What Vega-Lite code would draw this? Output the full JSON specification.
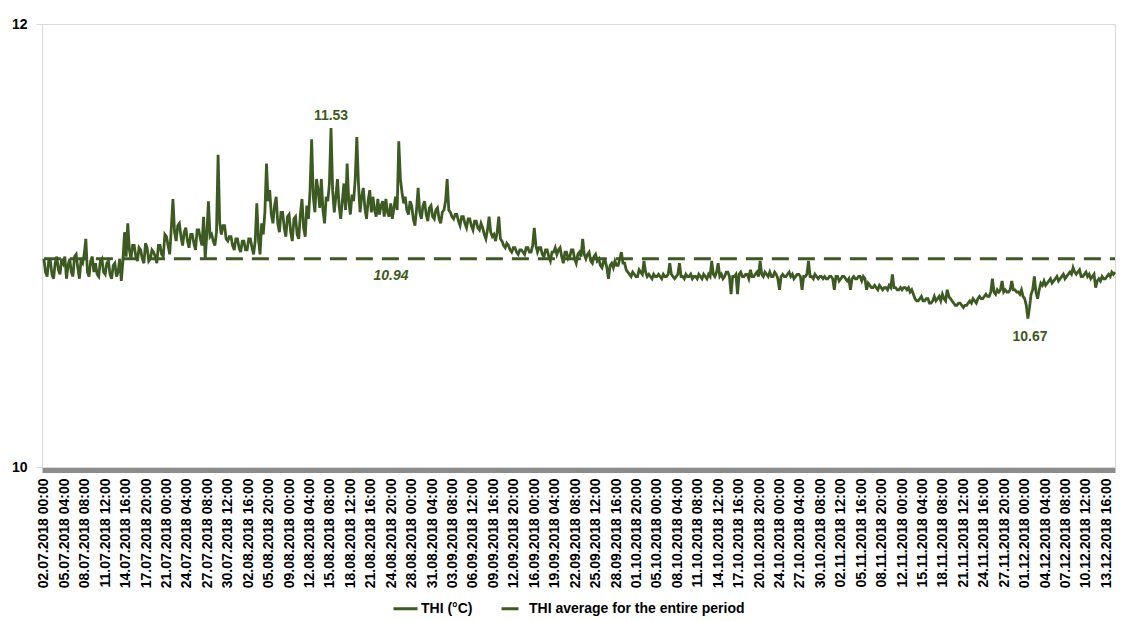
{
  "$schema": "https://vega.github.io/schema/vega-lite/v6.json",
  "width": 1073,
  "height": 443,
  "autosize": {"type": "none"},
  "padding": {"left": 42, "top": 24, "right": 17, "bottom": 154},
  "background": "white",
  "config": {
    "view": {"stroke": "#d9d9d9", "strokeWidth": 1},
    "font": "Liberation Sans",
    "axis": {"labelOverlap": false},
    "axisX": {"labelOverlap": false}
  },
  "datasets": {
    "thi": [
{"t":"2018-07-02T00:00Z","v":10.94},{"t":"2018-07-02T06:00Z","v":10.88},{"t":"2018-07-02T12:00Z","v":10.86},{"t":"2018-07-02T18:00Z","v":10.93},
{"t":"2018-07-03T00:00Z","v":10.93},{"t":"2018-07-03T06:00Z","v":10.87},{"t":"2018-07-03T12:00Z","v":10.85},{"t":"2018-07-03T18:00Z","v":10.92},
{"t":"2018-07-04T00:00Z","v":10.95},{"t":"2018-07-04T06:00Z","v":10.89},{"t":"2018-07-04T12:00Z","v":10.87},{"t":"2018-07-04T18:00Z","v":10.94},
{"t":"2018-07-05T00:00Z","v":10.92},{"t":"2018-07-05T06:00Z","v":10.95},{"t":"2018-07-05T12:00Z","v":10.85},{"t":"2018-07-05T18:00Z","v":10.91},
{"t":"2018-07-06T00:00Z","v":10.94},{"t":"2018-07-06T06:00Z","v":10.88},{"t":"2018-07-06T12:00Z","v":10.86},{"t":"2018-07-06T18:00Z","v":10.95},
{"t":"2018-07-07T00:00Z","v":10.96},{"t":"2018-07-07T06:00Z","v":10.90},{"t":"2018-07-07T12:00Z","v":10.85},{"t":"2018-07-07T18:00Z","v":10.93},
{"t":"2018-07-08T00:00Z","v":10.92},{"t":"2018-07-08T06:00Z","v":10.96},{"t":"2018-07-08T12:00Z","v":11.03},{"t":"2018-07-08T18:00Z","v":10.88},
{"t":"2018-07-09T00:00Z","v":10.86},{"t":"2018-07-09T06:00Z","v":10.93},{"t":"2018-07-09T12:00Z","v":10.95},{"t":"2018-07-09T18:00Z","v":10.88},
{"t":"2018-07-10T00:00Z","v":10.92},{"t":"2018-07-10T06:00Z","v":10.87},{"t":"2018-07-10T12:00Z","v":10.86},{"t":"2018-07-10T18:00Z","v":10.93},
{"t":"2018-07-11T00:00Z","v":10.94},{"t":"2018-07-11T06:00Z","v":10.88},{"t":"2018-07-11T12:00Z","v":10.87},{"t":"2018-07-11T18:00Z","v":10.92},
{"t":"2018-07-12T00:00Z","v":10.93},{"t":"2018-07-12T06:00Z","v":10.87},{"t":"2018-07-12T12:00Z","v":10.85},{"t":"2018-07-12T18:00Z","v":10.91},
{"t":"2018-07-13T00:00Z","v":10.92},{"t":"2018-07-13T06:00Z","v":10.86},{"t":"2018-07-13T12:00Z","v":10.88},{"t":"2018-07-13T18:00Z","v":10.94},
{"t":"2018-07-14T00:00Z","v":10.84},{"t":"2018-07-14T06:00Z","v":10.93},{"t":"2018-07-14T12:00Z","v":11.06},{"t":"2018-07-14T18:00Z","v":10.95},
{"t":"2018-07-15T00:00Z","v":11.10},{"t":"2018-07-15T06:00Z","v":10.98},{"t":"2018-07-15T12:00Z","v":10.94},{"t":"2018-07-15T18:00Z","v":11.00},
{"t":"2018-07-16T00:00Z","v":11.00},{"t":"2018-07-16T06:00Z","v":10.95},{"t":"2018-07-16T12:00Z","v":10.93},{"t":"2018-07-16T18:00Z","v":10.99},
{"t":"2018-07-17T00:00Z","v":10.98},{"t":"2018-07-17T06:00Z","v":10.94},{"t":"2018-07-17T12:00Z","v":10.92},{"t":"2018-07-17T18:00Z","v":11.01},
{"t":"2018-07-18T00:00Z","v":10.99},{"t":"2018-07-18T06:00Z","v":10.93},{"t":"2018-07-18T12:00Z","v":10.94},{"t":"2018-07-18T18:00Z","v":10.98},
{"t":"2018-07-19T00:00Z","v":10.97},{"t":"2018-07-19T06:00Z","v":10.95},{"t":"2018-07-19T12:00Z","v":10.92},{"t":"2018-07-19T18:00Z","v":11.00},
{"t":"2018-07-20T00:00Z","v":11.00},{"t":"2018-07-20T06:00Z","v":10.96},{"t":"2018-07-20T12:00Z","v":10.95},{"t":"2018-07-20T18:00Z","v":11.05},
{"t":"2018-07-21T00:00Z","v":11.04},{"t":"2018-07-21T06:00Z","v":11.00},{"t":"2018-07-21T12:00Z","v":10.96},{"t":"2018-07-21T18:00Z","v":11.08},
{"t":"2018-07-22T00:00Z","v":11.21},{"t":"2018-07-22T06:00Z","v":11.06},{"t":"2018-07-22T12:00Z","v":11.02},{"t":"2018-07-22T18:00Z","v":11.09},
{"t":"2018-07-23T00:00Z","v":11.10},{"t":"2018-07-23T06:00Z","v":11.04},{"t":"2018-07-23T12:00Z","v":11.00},{"t":"2018-07-23T18:00Z","v":11.06},
{"t":"2018-07-24T00:00Z","v":11.08},{"t":"2018-07-24T06:00Z","v":11.02},{"t":"2018-07-24T12:00Z","v":10.99},{"t":"2018-07-24T18:00Z","v":11.05},
{"t":"2018-07-25T00:00Z","v":11.05},{"t":"2018-07-25T06:00Z","v":11.01},{"t":"2018-07-25T12:00Z","v":10.98},{"t":"2018-07-25T18:00Z","v":11.07},
{"t":"2018-07-26T00:00Z","v":11.07},{"t":"2018-07-26T06:00Z","v":11.03},{"t":"2018-07-26T12:00Z","v":11.00},{"t":"2018-07-26T18:00Z","v":11.13},
{"t":"2018-07-27T00:00Z","v":10.94},{"t":"2018-07-27T06:00Z","v":11.05},{"t":"2018-07-27T12:00Z","v":11.20},{"t":"2018-07-27T18:00Z","v":11.04},
{"t":"2018-07-28T00:00Z","v":11.05},{"t":"2018-07-28T06:00Z","v":11.02},{"t":"2018-07-28T12:00Z","v":11.00},{"t":"2018-07-28T18:00Z","v":11.06},
{"t":"2018-07-29T00:00Z","v":11.41},{"t":"2018-07-29T06:00Z","v":11.10},{"t":"2018-07-29T12:00Z","v":11.05},{"t":"2018-07-29T18:00Z","v":11.09},
{"t":"2018-07-30T00:00Z","v":11.09},{"t":"2018-07-30T06:00Z","v":11.03},{"t":"2018-07-30T12:00Z","v":11.02},{"t":"2018-07-30T18:00Z","v":11.04},
{"t":"2018-07-31T00:00Z","v":11.04},{"t":"2018-07-31T06:00Z","v":11.00},{"t":"2018-07-31T12:00Z","v":10.98},{"t":"2018-07-31T18:00Z","v":11.03},
{"t":"2018-08-01T00:00Z","v":11.03},{"t":"2018-08-01T06:00Z","v":10.99},{"t":"2018-08-01T12:00Z","v":10.97},{"t":"2018-08-01T18:00Z","v":11.02},
{"t":"2018-08-02T00:00Z","v":11.02},{"t":"2018-08-02T06:00Z","v":10.98},{"t":"2018-08-02T12:00Z","v":10.98},{"t":"2018-08-02T18:00Z","v":11.03},
{"t":"2018-08-03T00:00Z","v":11.03},{"t":"2018-08-03T06:00Z","v":10.99},{"t":"2018-08-03T12:00Z","v":10.96},{"t":"2018-08-03T18:00Z","v":11.02},
{"t":"2018-08-04T00:00Z","v":11.19},{"t":"2018-08-04T06:00Z","v":11.03},{"t":"2018-08-04T12:00Z","v":10.96},{"t":"2018-08-04T18:00Z","v":11.10},
{"t":"2018-08-05T00:00Z","v":11.05},{"t":"2018-08-05T06:00Z","v":11.15},{"t":"2018-08-05T12:00Z","v":11.37},{"t":"2018-08-05T18:00Z","v":11.20},
{"t":"2018-08-06T00:00Z","v":11.25},{"t":"2018-08-06T06:00Z","v":11.14},{"t":"2018-08-06T12:00Z","v":11.10},{"t":"2018-08-06T18:00Z","v":11.18},
{"t":"2018-08-07T00:00Z","v":11.22},{"t":"2018-08-07T06:00Z","v":11.10},{"t":"2018-08-07T12:00Z","v":11.06},{"t":"2018-08-07T18:00Z","v":11.15},
{"t":"2018-08-08T00:00Z","v":11.15},{"t":"2018-08-08T06:00Z","v":11.08},{"t":"2018-08-08T12:00Z","v":11.04},{"t":"2018-08-08T18:00Z","v":11.13},
{"t":"2018-08-09T00:00Z","v":11.14},{"t":"2018-08-09T06:00Z","v":11.06},{"t":"2018-08-09T12:00Z","v":11.02},{"t":"2018-08-09T18:00Z","v":11.12},
{"t":"2018-08-10T00:00Z","v":11.13},{"t":"2018-08-10T06:00Z","v":11.05},{"t":"2018-08-10T12:00Z","v":11.03},{"t":"2018-08-10T18:00Z","v":11.14},
{"t":"2018-08-11T00:00Z","v":11.21},{"t":"2018-08-11T06:00Z","v":11.08},{"t":"2018-08-11T12:00Z","v":11.04},{"t":"2018-08-11T18:00Z","v":11.18},
{"t":"2018-08-12T00:00Z","v":11.12},{"t":"2018-08-12T06:00Z","v":11.25},{"t":"2018-08-12T12:00Z","v":11.48},{"t":"2018-08-12T18:00Z","v":11.22},
{"t":"2018-08-13T00:00Z","v":11.15},{"t":"2018-08-13T06:00Z","v":11.30},{"t":"2018-08-13T12:00Z","v":11.25},{"t":"2018-08-13T18:00Z","v":11.17},
{"t":"2018-08-14T00:00Z","v":11.30},{"t":"2018-08-14T06:00Z","v":11.16},{"t":"2018-08-14T12:00Z","v":11.10},{"t":"2018-08-14T18:00Z","v":11.22},
{"t":"2018-08-15T00:00Z","v":11.20},{"t":"2018-08-15T06:00Z","v":11.28},{"t":"2018-08-15T12:00Z","v":11.53},{"t":"2018-08-15T18:00Z","v":11.25},
{"t":"2018-08-16T00:00Z","v":11.15},{"t":"2018-08-16T06:00Z","v":11.22},{"t":"2018-08-16T12:00Z","v":11.30},{"t":"2018-08-16T18:00Z","v":11.18},
{"t":"2018-08-17T00:00Z","v":11.12},{"t":"2018-08-17T06:00Z","v":11.20},{"t":"2018-08-17T12:00Z","v":11.28},{"t":"2018-08-17T18:00Z","v":11.16},
{"t":"2018-08-18T00:00Z","v":11.37},{"t":"2018-08-18T06:00Z","v":11.20},{"t":"2018-08-18T12:00Z","v":11.14},{"t":"2018-08-18T18:00Z","v":11.23},
{"t":"2018-08-19T00:00Z","v":11.20},{"t":"2018-08-19T06:00Z","v":11.30},{"t":"2018-08-19T12:00Z","v":11.49},{"t":"2018-08-19T18:00Z","v":11.28},
{"t":"2018-08-20T00:00Z","v":11.15},{"t":"2018-08-20T06:00Z","v":11.22},{"t":"2018-08-20T12:00Z","v":11.26},{"t":"2018-08-20T18:00Z","v":11.17},
{"t":"2018-08-21T00:00Z","v":11.12},{"t":"2018-08-21T06:00Z","v":11.20},{"t":"2018-08-21T12:00Z","v":11.25},{"t":"2018-08-21T18:00Z","v":11.15},
{"t":"2018-08-22T00:00Z","v":11.22},{"t":"2018-08-22T06:00Z","v":11.16},{"t":"2018-08-22T12:00Z","v":11.13},{"t":"2018-08-22T18:00Z","v":11.21},
{"t":"2018-08-23T00:00Z","v":11.14},{"t":"2018-08-23T06:00Z","v":11.18},{"t":"2018-08-23T12:00Z","v":11.20},{"t":"2018-08-23T18:00Z","v":11.13},
{"t":"2018-08-24T00:00Z","v":11.21},{"t":"2018-08-24T06:00Z","v":11.15},{"t":"2018-08-24T12:00Z","v":11.13},{"t":"2018-08-24T18:00Z","v":11.19},
{"t":"2018-08-25T00:00Z","v":11.12},{"t":"2018-08-25T06:00Z","v":11.17},{"t":"2018-08-25T12:00Z","v":11.22},{"t":"2018-08-25T18:00Z","v":11.16},
{"t":"2018-08-26T00:00Z","v":11.47},{"t":"2018-08-26T06:00Z","v":11.30},{"t":"2018-08-26T12:00Z","v":11.24},{"t":"2018-08-26T18:00Z","v":11.19},
{"t":"2018-08-27T00:00Z","v":11.22},{"t":"2018-08-27T06:00Z","v":11.16},{"t":"2018-08-27T12:00Z","v":11.14},{"t":"2018-08-27T18:00Z","v":11.20},
{"t":"2018-08-28T00:00Z","v":11.18},{"t":"2018-08-28T06:00Z","v":11.12},{"t":"2018-08-28T12:00Z","v":11.09},{"t":"2018-08-28T18:00Z","v":11.16},
{"t":"2018-08-29T00:00Z","v":11.26},{"t":"2018-08-29T06:00Z","v":11.15},{"t":"2018-08-29T12:00Z","v":11.12},{"t":"2018-08-29T18:00Z","v":11.18},
{"t":"2018-08-30T00:00Z","v":11.20},{"t":"2018-08-30T06:00Z","v":11.14},{"t":"2018-08-30T12:00Z","v":11.11},{"t":"2018-08-30T18:00Z","v":11.17},
{"t":"2018-08-31T00:00Z","v":11.18},{"t":"2018-08-31T06:00Z","v":11.13},{"t":"2018-08-31T12:00Z","v":11.12},{"t":"2018-08-31T18:00Z","v":11.16},
{"t":"2018-09-01T00:00Z","v":11.17},{"t":"2018-09-01T06:00Z","v":11.12},{"t":"2018-09-01T12:00Z","v":11.10},{"t":"2018-09-01T18:00Z","v":11.15},
{"t":"2018-09-02T00:00Z","v":11.16},{"t":"2018-09-02T06:00Z","v":11.20},{"t":"2018-09-02T12:00Z","v":11.30},{"t":"2018-09-02T18:00Z","v":11.16},
{"t":"2018-09-03T00:00Z","v":11.15},{"t":"2018-09-03T06:00Z","v":11.13},{"t":"2018-09-03T12:00Z","v":11.12},{"t":"2018-09-03T18:00Z","v":11.14},
{"t":"2018-09-04T00:00Z","v":11.14},{"t":"2018-09-04T06:00Z","v":11.11},{"t":"2018-09-04T12:00Z","v":11.09},{"t":"2018-09-04T18:00Z","v":11.13},
{"t":"2018-09-05T00:00Z","v":11.13},{"t":"2018-09-05T06:00Z","v":11.10},{"t":"2018-09-05T12:00Z","v":11.08},{"t":"2018-09-05T18:00Z","v":11.12},
{"t":"2018-09-06T00:00Z","v":11.12},{"t":"2018-09-06T06:00Z","v":11.09},{"t":"2018-09-06T12:00Z","v":11.07},{"t":"2018-09-06T18:00Z","v":11.11},
{"t":"2018-09-07T00:00Z","v":11.11},{"t":"2018-09-07T06:00Z","v":11.08},{"t":"2018-09-07T12:00Z","v":11.07},{"t":"2018-09-07T18:00Z","v":11.10},
{"t":"2018-09-08T00:00Z","v":11.08},{"t":"2018-09-08T06:00Z","v":11.05},{"t":"2018-09-08T12:00Z","v":11.03},{"t":"2018-09-08T18:00Z","v":11.07},
{"t":"2018-09-09T00:00Z","v":11.13},{"t":"2018-09-09T06:00Z","v":11.06},{"t":"2018-09-09T12:00Z","v":11.04},{"t":"2018-09-09T18:00Z","v":11.05},
{"t":"2018-09-10T00:00Z","v":11.02},{"t":"2018-09-10T06:00Z","v":11.06},{"t":"2018-09-10T12:00Z","v":11.13},{"t":"2018-09-10T18:00Z","v":11.03},
{"t":"2018-09-11T00:00Z","v":11.02},{"t":"2018-09-11T06:00Z","v":11.00},{"t":"2018-09-11T12:00Z","v":10.99},{"t":"2018-09-11T18:00Z","v":11.01},
{"t":"2018-09-12T00:00Z","v":11.00},{"t":"2018-09-12T06:00Z","v":10.98},{"t":"2018-09-12T12:00Z","v":10.97},{"t":"2018-09-12T18:00Z","v":10.99},
{"t":"2018-09-13T00:00Z","v":10.99},{"t":"2018-09-13T06:00Z","v":10.97},{"t":"2018-09-13T12:00Z","v":10.96},{"t":"2018-09-13T18:00Z","v":10.98},
{"t":"2018-09-14T00:00Z","v":10.98},{"t":"2018-09-14T06:00Z","v":10.97},{"t":"2018-09-14T12:00Z","v":10.96},{"t":"2018-09-14T18:00Z","v":10.99},
{"t":"2018-09-15T00:00Z","v":10.99},{"t":"2018-09-15T06:00Z","v":10.97},{"t":"2018-09-15T12:00Z","v":10.97},{"t":"2018-09-15T18:00Z","v":11.00},
{"t":"2018-09-16T00:00Z","v":11.08},{"t":"2018-09-16T06:00Z","v":11.00},{"t":"2018-09-16T12:00Z","v":10.97},{"t":"2018-09-16T18:00Z","v":10.99},
{"t":"2018-09-17T00:00Z","v":10.99},{"t":"2018-09-17T06:00Z","v":10.96},{"t":"2018-09-17T12:00Z","v":10.95},{"t":"2018-09-17T18:00Z","v":10.98},
{"t":"2018-09-18T00:00Z","v":10.98},{"t":"2018-09-18T06:00Z","v":10.95},{"t":"2018-09-18T12:00Z","v":10.93},{"t":"2018-09-18T18:00Z","v":10.97},
{"t":"2018-09-19T00:00Z","v":10.97},{"t":"2018-09-19T06:00Z","v":10.99},{"t":"2018-09-19T12:00Z","v":10.96},{"t":"2018-09-19T18:00Z","v":10.98},
{"t":"2018-09-20T00:00Z","v":10.99},{"t":"2018-09-20T06:00Z","v":10.95},{"t":"2018-09-20T12:00Z","v":10.92},{"t":"2018-09-20T18:00Z","v":10.97},
{"t":"2018-09-21T00:00Z","v":10.97},{"t":"2018-09-21T06:00Z","v":10.94},{"t":"2018-09-21T12:00Z","v":10.95},{"t":"2018-09-21T18:00Z","v":10.98},
{"t":"2018-09-22T00:00Z","v":10.98},{"t":"2018-09-22T06:00Z","v":10.94},{"t":"2018-09-22T12:00Z","v":10.92},{"t":"2018-09-22T18:00Z","v":10.96},
{"t":"2018-09-23T00:00Z","v":10.97},{"t":"2018-09-23T06:00Z","v":10.95},{"t":"2018-09-23T12:00Z","v":11.03},{"t":"2018-09-23T18:00Z","v":10.96},
{"t":"2018-09-24T00:00Z","v":10.94},{"t":"2018-09-24T06:00Z","v":10.96},{"t":"2018-09-24T12:00Z","v":10.97},{"t":"2018-09-24T18:00Z","v":10.93},
{"t":"2018-09-25T00:00Z","v":10.92},{"t":"2018-09-25T06:00Z","v":10.95},{"t":"2018-09-25T12:00Z","v":10.96},{"t":"2018-09-25T18:00Z","v":10.93},
{"t":"2018-09-26T00:00Z","v":10.94},{"t":"2018-09-26T06:00Z","v":10.91},{"t":"2018-09-26T12:00Z","v":10.90},{"t":"2018-09-26T18:00Z","v":10.93},
{"t":"2018-09-27T00:00Z","v":10.93},{"t":"2018-09-27T06:00Z","v":10.90},{"t":"2018-09-27T12:00Z","v":10.85},{"t":"2018-09-27T18:00Z","v":10.91},
{"t":"2018-09-28T00:00Z","v":10.92},{"t":"2018-09-28T06:00Z","v":10.90},{"t":"2018-09-28T12:00Z","v":10.93},{"t":"2018-09-28T18:00Z","v":10.91},
{"t":"2018-09-29T00:00Z","v":10.91},{"t":"2018-09-29T06:00Z","v":10.94},{"t":"2018-09-29T12:00Z","v":10.97},{"t":"2018-09-29T18:00Z","v":10.92},
{"t":"2018-09-30T00:00Z","v":10.92},{"t":"2018-09-30T06:00Z","v":10.89},{"t":"2018-09-30T12:00Z","v":10.88},{"t":"2018-09-30T18:00Z","v":10.87},
{"t":"2018-10-01T00:00Z","v":10.86},{"t":"2018-10-01T06:00Z","v":10.88},{"t":"2018-10-01T12:00Z","v":10.87},{"t":"2018-10-01T18:00Z","v":10.86},
{"t":"2018-10-02T00:00Z","v":10.86},{"t":"2018-10-02T06:00Z","v":10.89},{"t":"2018-10-02T12:00Z","v":10.88},{"t":"2018-10-02T18:00Z","v":10.87},
{"t":"2018-10-03T00:00Z","v":10.93},{"t":"2018-10-03T06:00Z","v":10.88},{"t":"2018-10-03T12:00Z","v":10.86},{"t":"2018-10-03T18:00Z","v":10.87},
{"t":"2018-10-04T00:00Z","v":10.86},{"t":"2018-10-04T06:00Z","v":10.85},{"t":"2018-10-04T12:00Z","v":10.87},{"t":"2018-10-04T18:00Z","v":10.86},
{"t":"2018-10-05T00:00Z","v":10.86},{"t":"2018-10-05T06:00Z","v":10.87},{"t":"2018-10-05T12:00Z","v":10.86},{"t":"2018-10-05T18:00Z","v":10.85},
{"t":"2018-10-06T00:00Z","v":10.87},{"t":"2018-10-06T06:00Z","v":10.86},{"t":"2018-10-06T12:00Z","v":10.86},{"t":"2018-10-06T18:00Z","v":10.87},
{"t":"2018-10-07T00:00Z","v":10.92},{"t":"2018-10-07T06:00Z","v":10.87},{"t":"2018-10-07T12:00Z","v":10.86},{"t":"2018-10-07T18:00Z","v":10.85},
{"t":"2018-10-08T00:00Z","v":10.86},{"t":"2018-10-08T06:00Z","v":10.87},{"t":"2018-10-08T12:00Z","v":10.92},{"t":"2018-10-08T18:00Z","v":10.86},
{"t":"2018-10-09T00:00Z","v":10.86},{"t":"2018-10-09T06:00Z","v":10.85},{"t":"2018-10-09T12:00Z","v":10.87},{"t":"2018-10-09T18:00Z","v":10.86},
{"t":"2018-10-10T00:00Z","v":10.86},{"t":"2018-10-10T06:00Z","v":10.87},{"t":"2018-10-10T12:00Z","v":10.85},{"t":"2018-10-10T18:00Z","v":10.86},
{"t":"2018-10-11T00:00Z","v":10.86},{"t":"2018-10-11T06:00Z","v":10.85},{"t":"2018-10-11T12:00Z","v":10.87},{"t":"2018-10-11T18:00Z","v":10.86},
{"t":"2018-10-12T00:00Z","v":10.85},{"t":"2018-10-12T06:00Z","v":10.87},{"t":"2018-10-12T12:00Z","v":10.86},{"t":"2018-10-12T18:00Z","v":10.85},
{"t":"2018-10-13T00:00Z","v":10.87},{"t":"2018-10-13T06:00Z","v":10.86},{"t":"2018-10-13T12:00Z","v":10.93},{"t":"2018-10-13T18:00Z","v":10.87},
{"t":"2018-10-14T00:00Z","v":10.86},{"t":"2018-10-14T06:00Z","v":10.88},{"t":"2018-10-14T12:00Z","v":10.92},{"t":"2018-10-14T18:00Z","v":10.86},
{"t":"2018-10-15T00:00Z","v":10.87},{"t":"2018-10-15T06:00Z","v":10.85},{"t":"2018-10-15T12:00Z","v":10.86},{"t":"2018-10-15T18:00Z","v":10.88},
{"t":"2018-10-16T00:00Z","v":10.88},{"t":"2018-10-16T06:00Z","v":10.86},{"t":"2018-10-16T12:00Z","v":10.78},{"t":"2018-10-16T18:00Z","v":10.86},
{"t":"2018-10-17T00:00Z","v":10.86},{"t":"2018-10-17T06:00Z","v":10.87},{"t":"2018-10-17T12:00Z","v":10.78},{"t":"2018-10-17T18:00Z","v":10.87},
{"t":"2018-10-18T00:00Z","v":10.88},{"t":"2018-10-18T06:00Z","v":10.86},{"t":"2018-10-18T12:00Z","v":10.86},{"t":"2018-10-18T18:00Z","v":10.87},
{"t":"2018-10-19T00:00Z","v":10.87},{"t":"2018-10-19T06:00Z","v":10.85},{"t":"2018-10-19T12:00Z","v":10.89},{"t":"2018-10-19T18:00Z","v":10.86},
{"t":"2018-10-20T00:00Z","v":10.86},{"t":"2018-10-20T06:00Z","v":10.87},{"t":"2018-10-20T12:00Z","v":10.88},{"t":"2018-10-20T18:00Z","v":10.86},
{"t":"2018-10-21T00:00Z","v":10.93},{"t":"2018-10-21T06:00Z","v":10.87},{"t":"2018-10-21T12:00Z","v":10.86},{"t":"2018-10-21T18:00Z","v":10.88},
{"t":"2018-10-22T00:00Z","v":10.87},{"t":"2018-10-22T06:00Z","v":10.86},{"t":"2018-10-22T12:00Z","v":10.88},{"t":"2018-10-22T18:00Z","v":10.86},
{"t":"2018-10-23T00:00Z","v":10.86},{"t":"2018-10-23T06:00Z","v":10.88},{"t":"2018-10-23T12:00Z","v":10.87},{"t":"2018-10-23T18:00Z","v":10.85},
{"t":"2018-10-24T00:00Z","v":10.80},{"t":"2018-10-24T06:00Z","v":10.86},{"t":"2018-10-24T12:00Z","v":10.87},{"t":"2018-10-24T18:00Z","v":10.86},
{"t":"2018-10-25T00:00Z","v":10.86},{"t":"2018-10-25T06:00Z","v":10.87},{"t":"2018-10-25T12:00Z","v":10.88},{"t":"2018-10-25T18:00Z","v":10.86},
{"t":"2018-10-26T00:00Z","v":10.87},{"t":"2018-10-26T06:00Z","v":10.85},{"t":"2018-10-26T12:00Z","v":10.86},{"t":"2018-10-26T18:00Z","v":10.87},
{"t":"2018-10-27T00:00Z","v":10.87},{"t":"2018-10-27T06:00Z","v":10.86},{"t":"2018-10-27T12:00Z","v":10.80},{"t":"2018-10-27T18:00Z","v":10.86},
{"t":"2018-10-28T00:00Z","v":10.86},{"t":"2018-10-28T06:00Z","v":10.87},{"t":"2018-10-28T12:00Z","v":10.93},{"t":"2018-10-28T18:00Z","v":10.86},
{"t":"2018-10-29T00:00Z","v":10.86},{"t":"2018-10-29T06:00Z","v":10.85},{"t":"2018-10-29T12:00Z","v":10.87},{"t":"2018-10-29T18:00Z","v":10.86},
{"t":"2018-10-30T00:00Z","v":10.85},{"t":"2018-10-30T06:00Z","v":10.86},{"t":"2018-10-30T12:00Z","v":10.86},{"t":"2018-10-30T18:00Z","v":10.85},
{"t":"2018-10-31T00:00Z","v":10.86},{"t":"2018-10-31T06:00Z","v":10.85},{"t":"2018-10-31T12:00Z","v":10.85},{"t":"2018-10-31T18:00Z","v":10.86},
{"t":"2018-11-01T00:00Z","v":10.86},{"t":"2018-11-01T06:00Z","v":10.85},{"t":"2018-11-01T12:00Z","v":10.80},{"t":"2018-11-01T18:00Z","v":10.86},
{"t":"2018-11-02T00:00Z","v":10.86},{"t":"2018-11-02T06:00Z","v":10.84},{"t":"2018-11-02T12:00Z","v":10.85},{"t":"2018-11-02T18:00Z","v":10.86},
{"t":"2018-11-03T00:00Z","v":10.86},{"t":"2018-11-03T06:00Z","v":10.85},{"t":"2018-11-03T12:00Z","v":10.84},{"t":"2018-11-03T18:00Z","v":10.85},
{"t":"2018-11-04T00:00Z","v":10.80},{"t":"2018-11-04T06:00Z","v":10.85},{"t":"2018-11-04T12:00Z","v":10.86},{"t":"2018-11-04T18:00Z","v":10.85},
{"t":"2018-11-05T00:00Z","v":10.85},{"t":"2018-11-05T06:00Z","v":10.86},{"t":"2018-11-05T12:00Z","v":10.86},{"t":"2018-11-05T18:00Z","v":10.84},
{"t":"2018-11-06T00:00Z","v":10.86},{"t":"2018-11-06T06:00Z","v":10.85},{"t":"2018-11-06T12:00Z","v":10.80},{"t":"2018-11-06T18:00Z","v":10.83},
{"t":"2018-11-07T00:00Z","v":10.82},{"t":"2018-11-07T06:00Z","v":10.81},{"t":"2018-11-07T12:00Z","v":10.81},{"t":"2018-11-07T18:00Z","v":10.82},
{"t":"2018-11-08T00:00Z","v":10.81},{"t":"2018-11-08T06:00Z","v":10.80},{"t":"2018-11-08T12:00Z","v":10.82},{"t":"2018-11-08T18:00Z","v":10.81},
{"t":"2018-11-09T00:00Z","v":10.80},{"t":"2018-11-09T06:00Z","v":10.81},{"t":"2018-11-09T12:00Z","v":10.81},{"t":"2018-11-09T18:00Z","v":10.80},
{"t":"2018-11-10T00:00Z","v":10.82},{"t":"2018-11-10T06:00Z","v":10.81},{"t":"2018-11-10T12:00Z","v":10.87},{"t":"2018-11-10T18:00Z","v":10.81},
{"t":"2018-11-11T00:00Z","v":10.81},{"t":"2018-11-11T06:00Z","v":10.80},{"t":"2018-11-11T12:00Z","v":10.80},{"t":"2018-11-11T18:00Z","v":10.81},
{"t":"2018-11-12T00:00Z","v":10.80},{"t":"2018-11-12T06:00Z","v":10.81},{"t":"2018-11-12T12:00Z","v":10.81},{"t":"2018-11-12T18:00Z","v":10.80},
{"t":"2018-11-13T00:00Z","v":10.81},{"t":"2018-11-13T06:00Z","v":10.79},{"t":"2018-11-13T12:00Z","v":10.80},{"t":"2018-11-13T18:00Z","v":10.78},
{"t":"2018-11-14T00:00Z","v":10.76},{"t":"2018-11-14T06:00Z","v":10.75},{"t":"2018-11-14T12:00Z","v":10.75},{"t":"2018-11-14T18:00Z","v":10.76},
{"t":"2018-11-15T00:00Z","v":10.77},{"t":"2018-11-15T06:00Z","v":10.75},{"t":"2018-11-15T12:00Z","v":10.75},{"t":"2018-11-15T18:00Z","v":10.76},
{"t":"2018-11-16T00:00Z","v":10.76},{"t":"2018-11-16T06:00Z","v":10.74},{"t":"2018-11-16T12:00Z","v":10.74},{"t":"2018-11-16T18:00Z","v":10.75},
{"t":"2018-11-17T00:00Z","v":10.77},{"t":"2018-11-17T06:00Z","v":10.75},{"t":"2018-11-17T12:00Z","v":10.76},{"t":"2018-11-17T18:00Z","v":10.77},
{"t":"2018-11-18T00:00Z","v":10.75},{"t":"2018-11-18T06:00Z","v":10.78},{"t":"2018-11-18T12:00Z","v":10.76},{"t":"2018-11-18T18:00Z","v":10.75},
{"t":"2018-11-19T00:00Z","v":10.80},{"t":"2018-11-19T06:00Z","v":10.77},{"t":"2018-11-19T12:00Z","v":10.76},{"t":"2018-11-19T18:00Z","v":10.75},
{"t":"2018-11-20T00:00Z","v":10.74},{"t":"2018-11-20T06:00Z","v":10.73},{"t":"2018-11-20T12:00Z","v":10.73},{"t":"2018-11-20T18:00Z","v":10.74},
{"t":"2018-11-21T00:00Z","v":10.74},{"t":"2018-11-21T06:00Z","v":10.73},{"t":"2018-11-21T12:00Z","v":10.72},{"t":"2018-11-21T18:00Z","v":10.73},
{"t":"2018-11-22T00:00Z","v":10.73},{"t":"2018-11-22T06:00Z","v":10.74},{"t":"2018-11-22T12:00Z","v":10.75},{"t":"2018-11-22T18:00Z","v":10.74},
{"t":"2018-11-23T00:00Z","v":10.76},{"t":"2018-11-23T06:00Z","v":10.75},{"t":"2018-11-23T12:00Z","v":10.74},{"t":"2018-11-23T18:00Z","v":10.76},
{"t":"2018-11-24T00:00Z","v":10.77},{"t":"2018-11-24T06:00Z","v":10.76},{"t":"2018-11-24T12:00Z","v":10.76},{"t":"2018-11-24T18:00Z","v":10.77},
{"t":"2018-11-25T00:00Z","v":10.78},{"t":"2018-11-25T06:00Z","v":10.77},{"t":"2018-11-25T12:00Z","v":10.77},{"t":"2018-11-25T18:00Z","v":10.79},
{"t":"2018-11-26T00:00Z","v":10.85},{"t":"2018-11-26T06:00Z","v":10.79},{"t":"2018-11-26T12:00Z","v":10.78},{"t":"2018-11-26T18:00Z","v":10.80},
{"t":"2018-11-27T00:00Z","v":10.79},{"t":"2018-11-27T06:00Z","v":10.80},{"t":"2018-11-27T12:00Z","v":10.84},{"t":"2018-11-27T18:00Z","v":10.79},
{"t":"2018-11-28T00:00Z","v":10.80},{"t":"2018-11-28T06:00Z","v":10.79},{"t":"2018-11-28T12:00Z","v":10.79},{"t":"2018-11-28T18:00Z","v":10.80},
{"t":"2018-11-29T00:00Z","v":10.84},{"t":"2018-11-29T06:00Z","v":10.80},{"t":"2018-11-29T12:00Z","v":10.80},{"t":"2018-11-29T18:00Z","v":10.79},
{"t":"2018-11-30T00:00Z","v":10.79},{"t":"2018-11-30T06:00Z","v":10.78},{"t":"2018-11-30T12:00Z","v":10.80},{"t":"2018-11-30T18:00Z","v":10.77},
{"t":"2018-12-01T00:00Z","v":10.76},{"t":"2018-12-01T06:00Z","v":10.73},{"t":"2018-12-01T12:00Z","v":10.67},{"t":"2018-12-01T18:00Z","v":10.72},
{"t":"2018-12-02T00:00Z","v":10.78},{"t":"2018-12-02T06:00Z","v":10.80},{"t":"2018-12-02T12:00Z","v":10.86},{"t":"2018-12-02T18:00Z","v":10.79},
{"t":"2018-12-03T00:00Z","v":10.76},{"t":"2018-12-03T06:00Z","v":10.80},{"t":"2018-12-03T12:00Z","v":10.83},{"t":"2018-12-03T18:00Z","v":10.82},
{"t":"2018-12-04T00:00Z","v":10.84},{"t":"2018-12-04T06:00Z","v":10.82},{"t":"2018-12-04T12:00Z","v":10.83},{"t":"2018-12-04T18:00Z","v":10.84},
{"t":"2018-12-05T00:00Z","v":10.85},{"t":"2018-12-05T06:00Z","v":10.83},{"t":"2018-12-05T12:00Z","v":10.84},{"t":"2018-12-05T18:00Z","v":10.85},
{"t":"2018-12-06T00:00Z","v":10.86},{"t":"2018-12-06T06:00Z","v":10.84},{"t":"2018-12-06T12:00Z","v":10.85},{"t":"2018-12-06T18:00Z","v":10.86},
{"t":"2018-12-07T00:00Z","v":10.87},{"t":"2018-12-07T06:00Z","v":10.85},{"t":"2018-12-07T12:00Z","v":10.86},{"t":"2018-12-07T18:00Z","v":10.87},
{"t":"2018-12-08T00:00Z","v":10.88},{"t":"2018-12-08T06:00Z","v":10.87},{"t":"2018-12-08T12:00Z","v":10.90},{"t":"2018-12-08T18:00Z","v":10.88},
{"t":"2018-12-09T00:00Z","v":10.87},{"t":"2018-12-09T06:00Z","v":10.88},{"t":"2018-12-09T12:00Z","v":10.89},{"t":"2018-12-09T18:00Z","v":10.86},
{"t":"2018-12-10T00:00Z","v":10.86},{"t":"2018-12-10T06:00Z","v":10.87},{"t":"2018-12-10T12:00Z","v":10.88},{"t":"2018-12-10T18:00Z","v":10.86},
{"t":"2018-12-11T00:00Z","v":10.87},{"t":"2018-12-11T06:00Z","v":10.85},{"t":"2018-12-11T12:00Z","v":10.86},{"t":"2018-12-11T18:00Z","v":10.87},
{"t":"2018-12-12T00:00Z","v":10.81},{"t":"2018-12-12T06:00Z","v":10.84},{"t":"2018-12-12T12:00Z","v":10.85},{"t":"2018-12-12T18:00Z","v":10.84},
{"t":"2018-12-13T00:00Z","v":10.86},{"t":"2018-12-13T06:00Z","v":10.85},{"t":"2018-12-13T12:00Z","v":10.85},{"t":"2018-12-13T18:00Z","v":10.86},
{"t":"2018-12-14T00:00Z","v":10.87},{"t":"2018-12-14T06:00Z","v":10.86},{"t":"2018-12-14T12:00Z","v":10.88},{"t":"2018-12-14T18:00Z","v":10.87},
{"t":"2018-12-15T00:00Z","v":10.88}
    ]
  },
  "encoding": {
    "x": {
      "field": "t",
      "type": "temporal",
      "scale": {"type": "utc", "domain": [1530464400000, 1544832000000], "nice": false},
      "axis": {
        "title": null,
        "values": [1530489600000,1530763200000,1531036800000,1531310400000,1531584000000,1531857600000,1532131200000,1532404800000,1532678400000,1532952000000,1533225600000,1533499200000,1533772800000,1534046400000,1534320000000,1534593600000,1534867200000,1535140800000,1535414400000,1535688000000,1535961600000,1536235200000,1536508800000,1536782400000,1537056000000,1537329600000,1537603200000,1537876800000,1538150400000,1538424000000,1538697600000,1538971200000,1539244800000,1539518400000,1539792000000,1540065600000,1540339200000,1540612800000,1540886400000,1541160000000,1541433600000,1541707200000,1541980800000,1542254400000,1542528000000,1542801600000,1543075200000,1543348800000,1543622400000,1543896000000,1544169600000,1544443200000,1544716800000],
        "labelExpr": "utcFormat(datum.value, '%d.%m.%Y %H:%M')",
        "labelAngle": -90,
        "labelFont": "Liberation Sans",
        "labelFontSize": 14,
        "labelFontWeight": "bold",
        "labelColor": "#000000",
        "labelOverlap": false,
        "labelFlush": false,
        "labelBound": false,
        "labelPadding": 8,
        "ticks": false,
        "grid": false,
        "domainColor": "#8c8c8c",
        "domainWidth": 5,
        "offset": 3
      }
    },
    "y": {
      "field": "v",
      "type": "quantitative",
      "scale": {"domain": [10, 12], "nice": false},
      "axis": {
        "title": null,
        "values": [10, 11, 12],
        "format": "d",
        "labelFont": "Liberation Sans",
        "labelFontSize": 14,
        "labelFontWeight": "bold",
        "labelColor": "#000000",
        "labelPadding": 9,
        "tickSize": 6,
        "tickColor": "#d9d9d9",
        "domainColor": "#d9d9d9",
        "grid": true,
        "gridColor": "#d9d9d9"
      }
    }
  },
  "layer": [
    {
      "data": {"values": [
        {"s": "THI average for the entire period", "t": "2018-07-02T00:00Z", "v": 10.94},
        {"s": "THI average for the entire period", "t": "2018-12-15T00:00Z", "v": 10.94}
      ]},
      "mark": {"type": "line", "strokeWidth": 3, "color": "#3d5a22"},
      "encoding": {
        "strokeDash": {
          "field": "s",
          "type": "nominal",
          "scale": {"domain": ["THI (°C)", "THI average for the entire period"], "range": [[1, 0], [17, 9]]},
          "legend": {
            "title": null,
            "orient": "none",
            "legendX": 350,
            "legendY": 571,
            "direction": "horizontal",
            "symbolType": "stroke",
            "symbolSize": 576,
            "symbolStrokeWidth": 3,
            "symbolStrokeColor": "#3d5a22",
            "labelFont": "Liberation Sans",
            "labelFontSize": 14,
            "labelFontWeight": "bold",
            "labelColor": "#000000",
            "labelOffset": 2,
            "columnPadding": 22,
            "padding": 0,
            "labelLimit": 400
          }
        }
      }
    },
    {
      "data": {"name": "thi"},
      "mark": {"type": "line", "strokeWidth": 2.8, "color": "#3d5a22", "interpolate": "linear"},
      "encoding": {
        "strokeDash": {"datum": "THI (°C)", "type": "nominal"}
      }
    },
    {
      "data": {"values": [{"t": "2018-08-15T12:00Z", "v": 11.53, "label": "11.53"}]},
      "mark": {"type": "text", "font": "Liberation Sans", "fontSize": 14, "fontWeight": "bold", "color": "#3d5a22", "dy": -12, "baseline": "middle"},
      "encoding": {"text": {"field": "label"}}
    },
    {
      "data": {"values": [{"t": "2018-08-24T19:00Z", "v": 10.94, "label": "10.94"}]},
      "mark": {"type": "text", "font": "Liberation Sans", "fontSize": 14, "fontWeight": "bold", "fontStyle": "italic", "color": "#3d5a22", "dy": 17, "baseline": "middle"},
      "encoding": {"text": {"field": "label"}}
    },
    {
      "data": {"values": [{"t": "2018-12-01T20:00Z", "v": 10.67, "label": "10.67"}]},
      "mark": {"type": "text", "font": "Liberation Sans", "fontSize": 14, "fontWeight": "bold", "color": "#3d5a22", "dy": 18, "baseline": "middle"},
      "encoding": {"text": {"field": "label"}}
    }
  ]
}
